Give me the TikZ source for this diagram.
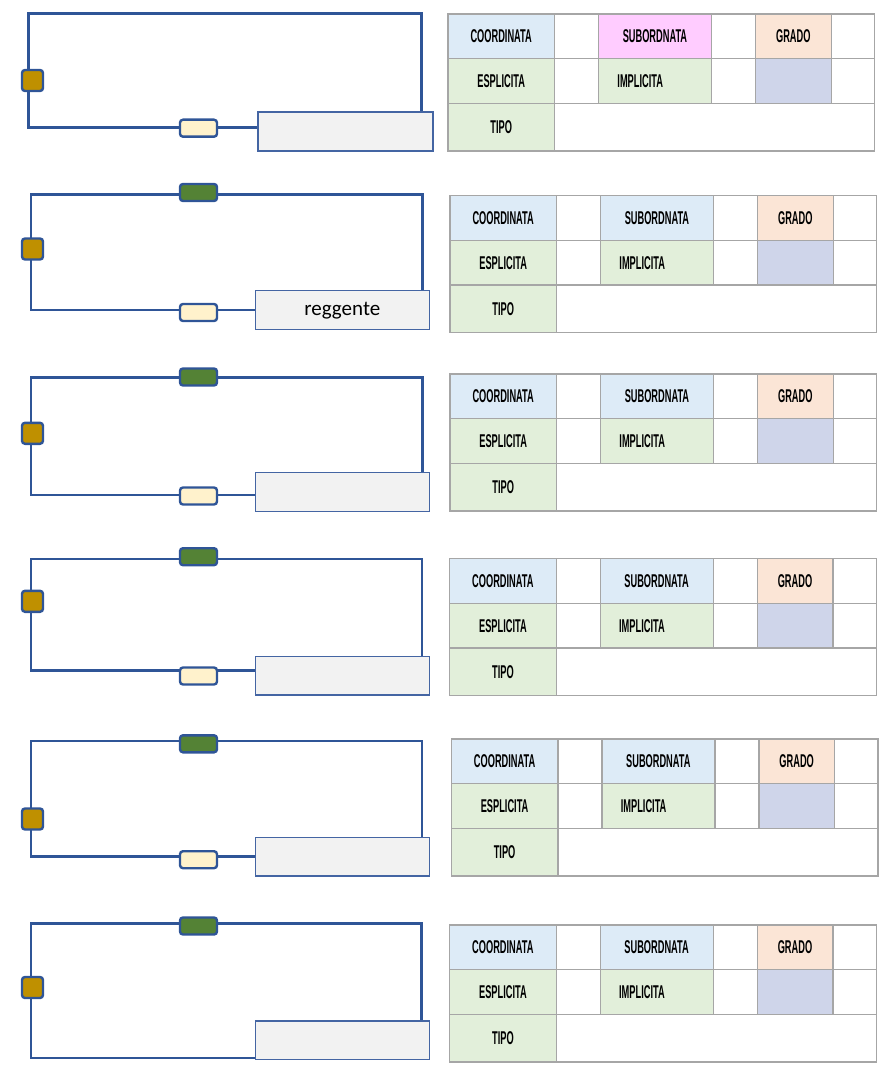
\documentclass[tikz,border=0pt]{standalone}
\usepackage{fontspec}
\newfontfamily\handfont[FakeStretch=0.5]{Liberation Sans}
\newfontfamily\calfont{Carlito}
\usetikzlibrary{calc}
\definecolor{wireblue}{HTML}{2F5597}
\definecolor{boxline}{HTML}{4465A3}
\definecolor{brownf}{HTML}{BF9000}
\definecolor{greenf}{HTML}{548235}
\definecolor{creamf}{HTML}{FFF2CC}
\definecolor{grayf}{HTML}{F2F2F2}
\definecolor{cellline}{HTML}{A6A6A6}
\definecolor{cblue}{HTML}{DDEBF7}
\definecolor{cpink}{HTML}{FFCCFF}
\definecolor{cpeach}{HTML}{FBE5D6}
\definecolor{clav}{HTML}{CFD5EA}
\definecolor{cgreen}{HTML}{E2EFDA}
\pgfdeclarelayer{bg}
\pgfsetlayers{bg,main}
\tikzset{
  wire/.style={draw=wireblue, line width=2.6pt, line join=miter},
  pad/.style={draw=wireblue, line width=2.4pt, rounded corners=3pt, inner sep=0pt},
  brownpad/.style={pad, fill=brownf, minimum width=21pt, minimum height=21pt},
  greenpad/.style={pad, fill=greenf, minimum width=37pt, minimum height=17pt},
  creampad/.style={pad, fill=creamf, minimum width=37pt, minimum height=17pt},
  graybox/.style={draw=boxline, line width=1.2pt, fill=grayf, inner sep=0pt, minimum width=174pt, minimum height=39pt, font=\calfont\fontsize{21}{24}\selectfont},
  cell/.style={draw=cellline, line width=1.3pt, inner sep=0pt, anchor=north west, font=\handfont\bfseries\fontsize{18.5}{20}\selectfont}
}
% table macro: #1 name, #2 x, #3 y, #4 colour of SUBORDNATA cell
\newcommand{\gramtable}[4]{%
  \begin{scope}[shift={(#2,#3)}]
    \node[cell, fill=cblue, minimum width=106.5pt, minimum height=44.6pt] (#1-coo) at (0,0) {COORDINATA};
    \node[cell, fill=white, minimum width=44pt, minimum height=44.6pt] (#1-c2) at (106.5,0) {};
    \node[cell, fill=#4, minimum width=113pt, minimum height=44.6pt] (#1-sub) at (150.5,0) {SUBORDNATA};
    \node[cell, fill=white, minimum width=44pt, minimum height=44.6pt] (#1-c4) at (263.5,0) {};
    \node[cell, fill=cpeach, minimum width=75.7pt, minimum height=44.6pt] (#1-gra) at (307.5,0) {GRADO};
    \node[cell, fill=white, minimum width=43.5pt, minimum height=44.6pt] (#1-c6) at (383.2,0) {};
    \node[cell, fill=cgreen, minimum width=106.5pt, minimum height=44.8pt] (#1-esp) at (0,44.6) {ESPLICITA};
    \node[cell, fill=white, minimum width=44pt, minimum height=44.8pt] (#1-d2) at (106.5,44.6) {};
    \node[cell, fill=cgreen, minimum width=113pt, minimum height=44.8pt, text width=75pt, align=left] (#1-imp) at (150.5,44.6) {IMPLICITA};
    \node[cell, fill=white, minimum width=44pt, minimum height=44.8pt] (#1-d4) at (263.5,44.6) {};
    \node[cell, fill=clav, minimum width=75.7pt, minimum height=44.8pt] (#1-d5) at (307.5,44.6) {};
    \node[cell, fill=white, minimum width=43.5pt, minimum height=44.8pt] (#1-d6) at (383.2,44.6) {};
    \node[cell, fill=cgreen, minimum width=106.5pt, minimum height=47.6pt] (#1-tip) at (0,89.4) {TIPO};
    \node[cell, fill=white, minimum width=320.2pt, minimum height=47.6pt] (#1-e2) at (106.5,89.4) {};
  \end{scope}}
\begin{document}
\begin{tikzpicture}[x=1pt, y=-1pt]
\useasboundingbox (0,0) rectangle (895,1067);

% ---------- Block 1 ----------
\node[graybox, minimum width=175pt] (gb1) at (345.5,131.5) {};
\node[brownpad] (br1) at (32.5,80.5) {};
\node[creampad] (cr1) at (198.5,128.2) {};
\coordinate (tl1) at (28.5,13.3);
\coordinate (tr1) at (421.7,13.3);
\coordinate (bl1) at (28.5,127.7);
\begin{pgfonlayer}{bg}
\draw[wire] (gb1.north -| tr1) -- (tr1) -- (tl1) -- (bl1) -- (gb1.west |- bl1);
\end{pgfonlayer}
\gramtable{t1}{447.3}{13.3}{cpink}

% ---------- Block 2 ----------
\node[graybox] (gb2) at (342.3,310.3) {reggente};
\node[brownpad] (br2) at (32.5,249) {};
\node[greenpad] (gr2) at (198.5,192.5) {};
\node[creampad] (cr2) at (198.5,312.5) {};
\coordinate (tl2) at (31,194.3);
\coordinate (tr2) at (422.7,194.3);
\coordinate (bl2) at (31,310);
\begin{pgfonlayer}{bg}
\draw[wire] (gb2.north -| tr2) -- (tr2) -- (tl2) -- (bl2) -- (gb2.west |- bl2);
\end{pgfonlayer}
\gramtable{t2}{449.3}{195}{cblue}

% ---------- Block 3 ----------
\node[graybox] (gb3) at (342.5,492) {};
\node[brownpad] (br3) at (32.5,433.3) {};
\node[greenpad] (gr3) at (198.5,377) {};
\node[creampad] (cr3) at (198.5,496) {};
\coordinate (tl3) at (31,377.3);
\coordinate (tr3) at (422.3,377.3);
\coordinate (bl3) at (31,495);
\begin{pgfonlayer}{bg}
\draw[wire] (gb3.north -| tr3) -- (tr3) -- (tl3) -- (bl3) -- (gb3.west |- bl3);
\end{pgfonlayer}
\gramtable{t3}{449.3}{373.3}{cblue}

% ---------- Block 4 ----------
\node[graybox, minimum height=38.3pt] (gb4) at (342.5,675.8) {};
\node[brownpad] (br4) at (32.5,601.3) {};
\node[greenpad] (gr4) at (198.5,556.7) {};
\node[creampad] (cr4) at (198.5,676) {};
\coordinate (tl4) at (31,559);
\coordinate (tr4) at (422,559);
\coordinate (bl4) at (31,670.7);
\begin{pgfonlayer}{bg}
\draw[wire] (gb4.north -| tr4) -- (tr4) -- (tl4) -- (bl4) -- (gb4.west |- bl4);
\end{pgfonlayer}
\gramtable{t4}{449}{558}{cblue}

% ---------- Block 5 ----------
\node[graybox, minimum height=38.3pt] (gb5) at (342.5,856.8) {};
\node[brownpad] (br5) at (32.5,819) {};
\node[greenpad] (gr5) at (198.5,743.8) {};
\node[creampad] (cr5) at (198.5,859.7) {};
\coordinate (tl5) at (31,741);
\coordinate (tr5) at (422,741);
\coordinate (bl5) at (31,856.7);
\begin{pgfonlayer}{bg}
\draw[wire] (gb5.north -| tr5) -- (tr5) -- (tl5) -- (bl5) -- (gb5.west |- bl5);
\end{pgfonlayer}
\gramtable{t5}{450.7}{738.3}{cblue}

% ---------- Block 6 ----------
\node[graybox, minimum height=38.3pt] (gb6) at (342.3,1040.2) {};
\node[brownpad] (br6) at (32.5,987.5) {};
\node[greenpad] (gr6) at (198.5,926) {};
\coordinate (tl6) at (31,923.3);
\coordinate (tr6) at (421.7,923.3);
\coordinate (bl6) at (31,1058);
\begin{pgfonlayer}{bg}
\draw[wire] (gb6.north -| tr6) -- (tr6) -- (tl6) -- (bl6) -- (gb6.west |- bl6);
\end{pgfonlayer}
\gramtable{t6}{449}{924.3}{cblue}
\end{tikzpicture}
\end{document}
